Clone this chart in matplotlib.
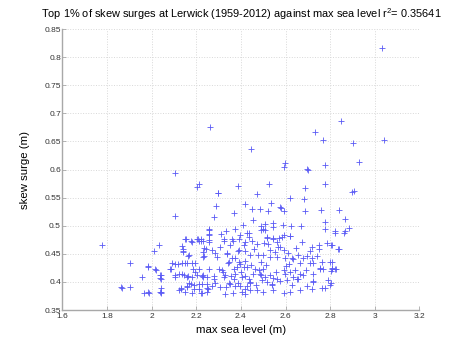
import matplotlib
matplotlib.use('Agg')
import matplotlib.pyplot as plt

plt.rcParams['font.family'] = ['Liberation Sans', 'DejaVu Sans']
plt.rcParams['mathtext.fontset'] = 'custom'
plt.rcParams['mathtext.rm'] = 'Liberation Sans'
plt.rcParams['mathtext.default'] = 'regular'

# max sea level (m) / skew surge (m)
sea_level = [
    2.263, 2.447, 2.596, 2.592, 2.697, 2.731, 2.767, 2.776, 2.848,
    3.033, 2.903, 3.040, 2.928,
    2.900, 2.906, 2.838, 2.867, 2.883, 2.822, 2.864, 2.805, 2.836, 2.808, 2.808, 2.825, 2.806, 2.804,
    2.103, 2.211, 2.205, 2.103, 1.777, 2.258, 2.258, 2.258, 2.151, 2.178, 2.205, 2.223, 2.035, 2.013,
    2.137, 2.167, 2.141, 2.229, 2.236, 1.902, 1.983, 1.985, 2.018, 2.092, 2.081, 2.137, 2.159, 2.193,
    2.186, 2.196, 2.107, 2.107, 2.137, 2.162, 2.205, 2.232, 2.232, 1.956, 2.044, 2.044, 2.041, 2.042,
    2.044, 1.862, 1.866, 1.905, 1.965, 1.985, 2.130, 2.133, 2.157, 2.178, 2.192, 2.211, 2.226, 2.252,
    2.125, 2.249,
    2.386, 2.296, 2.473, 2.622, 2.525, 2.776, 2.686, 2.700, 2.682, 2.533, 2.577, 2.580, 2.450, 2.484,
    2.520, 2.592, 2.689, 2.761, 2.455, 2.776, 2.510, 2.488, 2.500, 2.510, 2.488, 2.544, 2.544, 2.588,
    2.625, 2.670, 2.776, 2.823, 2.865, 2.429, 2.518, 2.544, 2.570, 2.592, 2.622, 2.748,
    2.298, 2.420, 2.289, 2.281, 2.368, 2.408, 2.259, 2.259, 2.335, 2.375, 2.395, 2.438, 2.154, 2.206,
    2.221, 2.360, 2.323,
    2.181, 2.214, 2.229, 2.256, 2.326, 2.363, 2.393, 2.420, 2.435, 2.141, 2.141, 2.245, 2.271, 2.286,
    2.338, 2.340, 2.386, 2.390, 2.420, 2.165, 2.232, 2.235, 2.293, 2.344, 2.346, 2.391, 2.395, 2.420,
    2.014, 2.089, 2.103, 2.118, 2.151, 2.181, 2.211, 2.256, 2.301, 2.316, 2.368, 2.383, 2.413, 2.428,
    2.039, 2.039, 2.121, 2.143, 2.159, 2.181, 2.226, 2.249, 2.279, 2.279, 2.323, 2.331, 2.357, 2.368,
    2.375, 2.405, 2.420, 2.435, 2.166, 2.159, 2.189, 2.211, 2.226, 2.249, 2.271, 2.286, 2.308, 2.334,
    2.353, 2.375, 2.398, 2.420, 2.443, 1.987, 2.039, 2.151, 2.181, 2.223, 2.249, 2.331, 2.363, 2.405,
    2.420,
    2.518, 2.544, 2.585, 2.622, 2.673, 2.718, 2.748, 2.711, 2.788, 2.808, 2.838, 2.450, 2.472, 2.502,
    2.561, 2.568, 2.591, 2.531, 2.553, 2.501, 2.531, 2.561, 2.598, 2.628, 2.658, 2.680, 2.695, 2.718,
    2.725, 2.755, 2.763, 2.800, 2.808, 2.822, 2.710, 2.665, 2.633,
    2.441, 2.464, 2.479, 2.456, 2.486, 2.501, 2.509, 2.531, 2.546, 2.494, 2.516, 2.539, 2.561, 2.591,
    2.598, 2.621, 2.635, 2.606, 2.628, 2.658, 2.680, 2.665, 2.725, 2.763, 2.792, 2.800, 2.441, 2.441,
    2.471, 2.501, 2.546, 2.591, 2.621, 2.718,
    2.725, 2.755, 2.767, 2.725, 2.775, 2.665, 2.650, 2.695,
    # extra marks in the crowded middle of the cloud
    2.305, 2.352, 2.372, 2.412, 2.458, 2.488, 2.523, 2.575, 2.612, 2.648,
    2.318, 2.362, 2.402, 2.447, 2.478, 2.513, 2.556, 2.603, 2.641, 2.692,
    2.312, 2.348, 2.385, 2.428, 2.468, 2.492, 2.538, 2.577, 2.616, 2.742,
]
skew_surge = [
    0.676, 0.636, 0.611, 0.605, 0.601, 0.667, 0.652, 0.608, 0.686,
    0.816, 0.648, 0.653, 0.614,
    0.560, 0.561, 0.528, 0.512, 0.496, 0.488, 0.488, 0.465, 0.459, 0.435, 0.424, 0.424, 0.419, 0.399,
    0.594, 0.575, 0.569, 0.517, 0.465, 0.492, 0.483, 0.474, 0.476, 0.473, 0.476, 0.473, 0.466, 0.456,
    0.464, 0.448, 0.453, 0.453, 0.461, 0.433, 0.427, 0.429, 0.421, 0.433, 0.423, 0.433, 0.433, 0.433,
    0.424, 0.417, 0.412, 0.408, 0.414, 0.410, 0.412, 0.412, 0.409, 0.409, 0.412, 0.405, 0.390, 0.380,
    0.383, 0.391, 0.389, 0.391, 0.380, 0.382, 0.390, 0.387, 0.391, 0.396, 0.387, 0.396, 0.381, 0.387,
    0.385, 0.396,
    0.571, 0.559, 0.556, 0.550, 0.575, 0.574, 0.568, 0.599, 0.547, 0.540, 0.534, 0.531, 0.530, 0.529,
    0.527, 0.526, 0.527, 0.528, 0.510, 0.507, 0.503, 0.500, 0.494, 0.493, 0.493, 0.505, 0.497, 0.502,
    0.499, 0.500, 0.494, 0.490, 0.490, 0.488, 0.479, 0.479, 0.479, 0.483, 0.481, 0.458,
    0.559, 0.538, 0.536, 0.515, 0.522, 0.502, 0.494, 0.485, 0.491, 0.494, 0.483, 0.488, 0.476, 0.476,
    0.476, 0.476, 0.476,
    0.472, 0.473, 0.473, 0.472, 0.473, 0.473, 0.476, 0.472, 0.480, 0.459, 0.455, 0.459, 0.457, 0.452,
    0.451, 0.449, 0.455, 0.457, 0.455, 0.447, 0.444, 0.446, 0.444, 0.433, 0.436, 0.435, 0.432, 0.438,
    0.423, 0.424, 0.432, 0.432, 0.433, 0.433, 0.423, 0.423, 0.424, 0.421, 0.423, 0.426, 0.426, 0.426,
    0.413, 0.407, 0.415, 0.413, 0.408, 0.408, 0.411, 0.408, 0.411, 0.405, 0.408, 0.413, 0.411, 0.405,
    0.414, 0.408, 0.411, 0.405, 0.398, 0.392, 0.394, 0.388, 0.397, 0.390, 0.392, 0.398, 0.391, 0.391,
    0.397, 0.392, 0.392, 0.388, 0.398, 0.380, 0.383, 0.383, 0.380, 0.380, 0.383, 0.378, 0.380, 0.382,
    0.379,
    0.480, 0.477, 0.480, 0.482, 0.472, 0.462, 0.465, 0.456, 0.469, 0.465, 0.459, 0.473, 0.467, 0.470,
    0.472, 0.463, 0.457, 0.457, 0.454, 0.448, 0.445, 0.445, 0.443, 0.442, 0.448, 0.443, 0.447, 0.443,
    0.433, 0.425, 0.436, 0.436, 0.425, 0.423, 0.433, 0.433, 0.441,
    0.448, 0.424, 0.421, 0.415, 0.414, 0.424, 0.409, 0.412, 0.407, 0.403, 0.400, 0.394, 0.406, 0.421,
    0.415, 0.418, 0.409, 0.403, 0.394, 0.406, 0.412, 0.386, 0.400, 0.389, 0.403, 0.394, 0.400, 0.386,
    0.386, 0.383, 0.386, 0.380, 0.383, 0.387,
    0.415, 0.424, 0.424, 0.402, 0.389, 0.415, 0.406, 0.392,
    0.463, 0.466, 0.442, 0.465, 0.458, 0.436, 0.468, 0.462, 0.452, 0.460,
    0.418, 0.443, 0.418, 0.431, 0.448, 0.430, 0.417, 0.428, 0.422, 0.421,
    0.485, 0.398, 0.398, 0.392, 0.395, 0.412, 0.397, 0.401, 0.432, 0.447,
]

xticks = [1.6, 1.8, 2.0, 2.2, 2.4, 2.6, 2.8, 3.0, 3.2]
xticklabels = ['1.6', '1.8', '2', '2.2', '2.4', '2.6', '2.8', '3', '3.2']
yticks = [0.35, 0.4, 0.45, 0.5, 0.55, 0.6, 0.65, 0.7, 0.75, 0.8, 0.85]
yticklabels = ['0.35', '0.4', '0.45', '0.5', '0.55', '0.6', '0.65', '0.7', '0.75', '0.8', '0.85']

fig = plt.figure(figsize=(4.65, 3.5), dpi=100)
ax = fig.add_axes([0.134, 0.114, 0.768, 0.803])

ax.plot(sea_level, skew_surge, '+', color='#5a5af5', markersize=5, markeredgewidth=0.6)

ax.set_xlim(1.6, 3.2)
ax.set_ylim(0.35, 0.85)
ax.set_xticks(xticks)
ax.set_xticklabels(xticklabels)
ax.set_yticks(yticks)
ax.set_yticklabels(yticklabels)
ax.grid(True, color='#d8d8d8', linestyle=':', linewidth=0.7)
ax.set_axisbelow(True)

for side in ['top', 'right']:
    ax.spines[side].set_visible(False)
for side in ['left', 'bottom']:
    ax.spines[side].set_color('#a8a8a8')
    ax.spines[side].set_linewidth(1.0)
ax.tick_params(direction='in', length=3, width=0.6, color='#a8a8a8',
               labelsize=6, labelcolor='#333333')
ax.tick_params(axis='x', pad=2)
ax.tick_params(axis='y', pad=1)

ax.set_xlabel('max sea level (m)', fontsize=8.2, labelpad=4)
ax.set_ylabel('skew surge (m)', fontsize=8.2, labelpad=10)
ax.set_title('Top 1% of skew surges at Lerwick (1959-2012) against max sea level r$^{2}$= 0.35641',
             fontsize=7.9, pad=8)

fig.savefig('out.png', dpi=100)
